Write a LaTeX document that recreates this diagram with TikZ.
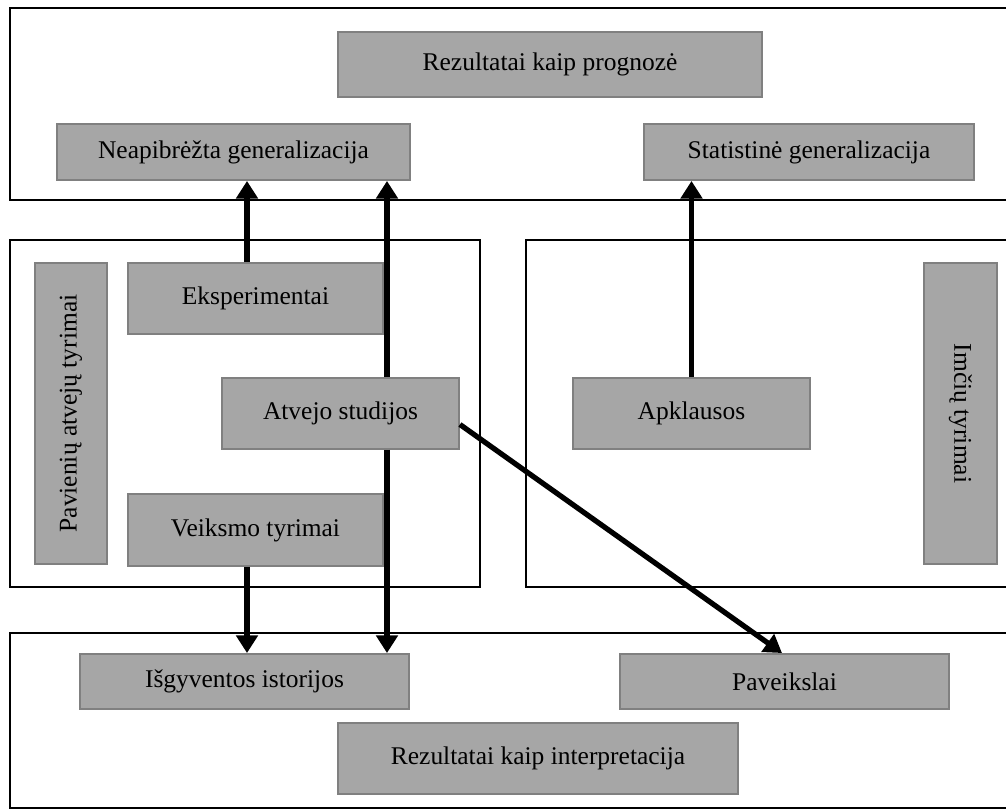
\documentclass[tikz,border=0pt]{standalone}
\usepackage{fontspec}
\setmainfont{Liberation Serif}
\usetikzlibrary{positioning,arrows.meta}
\tikzset{
	schema/.style={x=0.02cm,y=-0.02cm,font=\fontsize{14.5}{17}\selectfont},
	block/.style={rectangle,draw=gray,fill=black!35,line width=1.1pt,inner sep=2pt},
	frame/.style={draw=black,line width=1.5pt},
	link/.style={-{Triangle[length=10pt,width=12pt]},line width=3pt}
}

\begin{document}
\begin{tikzpicture}[schema]
	\clip (0,0) rectangle (1006,810);
	
	% frames
	\draw[frame] (10,8) rectangle (1020,200);
	\draw[frame] (10,240) rectangle (480,587);
	\draw[frame] (526,240) rectangle (1020,587);
	\draw[frame] (10,633) rectangle (1020,808);
	
	\node[block,minimum width=8.48cm,minimum height=1.3cm] (prog) at (550,64.5) {Rezultatai kaip prognozė};
	\node[block,minimum width=7.06cm,minimum height=1.12cm] (neap) at (233.5,152) {Neapibrėžta generalizacija};
	\node[block,minimum width=6.6cm,minimum height=1.12cm] (stat) at (809,152) {Statistinė generalizacija};
	
	\node[block,rotate=90,minimum width=6.02cm,minimum height=1.44cm] (pav) at (71,413.5) {Pavienių atvejų tyrimai};
	\node[block,minimum width=5.1cm,minimum height=1.42cm] (eksp) at (255.5,298.5) {Eksperimentai};
	\node[block,minimum width=4.74cm,minimum height=1.42cm] (atv) at (340.5,413.5) {Atvejo studijos};
	\node[block,minimum width=5.1cm,minimum height=1.44cm] (veik) at (255.5,530) {Veiksmo tyrimai};
	
	\node[block,minimum width=4.74cm,minimum height=1.42cm] (apkl) at (691.5,413.5) {Apklausos};
	\node[block,rotate=-90,minimum width=6.02cm,minimum height=1.46cm] (imc) at (960.5,413.5) {Imčių tyrimai};
	
	\node[block,minimum width=6.58cm,minimum height=1.1cm] (isg) at (244.5,681.5) {Išgyventos istorijos};
	\node[block,minimum width=6.58cm,minimum height=1.1cm] (pavk) at (784.5,681.5) {Paveikslai};
	\node[block,minimum width=8cm,minimum height=1.42cm] (interp) at (538,758.5) {Rezultatai kaip interpretacija};
	
	\path[link] ([xshift=-0.17cm]eksp.north) edge ([xshift=-0.17cm]eksp.north |- neap.south);
	\path[link] ([xshift=0.93cm]atv.north) edge ([xshift=0.93cm]atv.north |- neap.south);
	\path[link] ([xshift=0.93cm]atv.south) edge ([xshift=0.93cm]atv.south |- isg.north);
	\path[link] ([xshift=-0.17cm]veik.south) edge ([xshift=-0.17cm]veik.south |- isg.north);
	\path[link] (apkl.north) edge (apkl.north |- stat.south);
	\path[link] ([yshift=-0.22cm]atv.east) edge ([xshift=-0.05cm]pavk.north);
\end{tikzpicture}
\end{document}
